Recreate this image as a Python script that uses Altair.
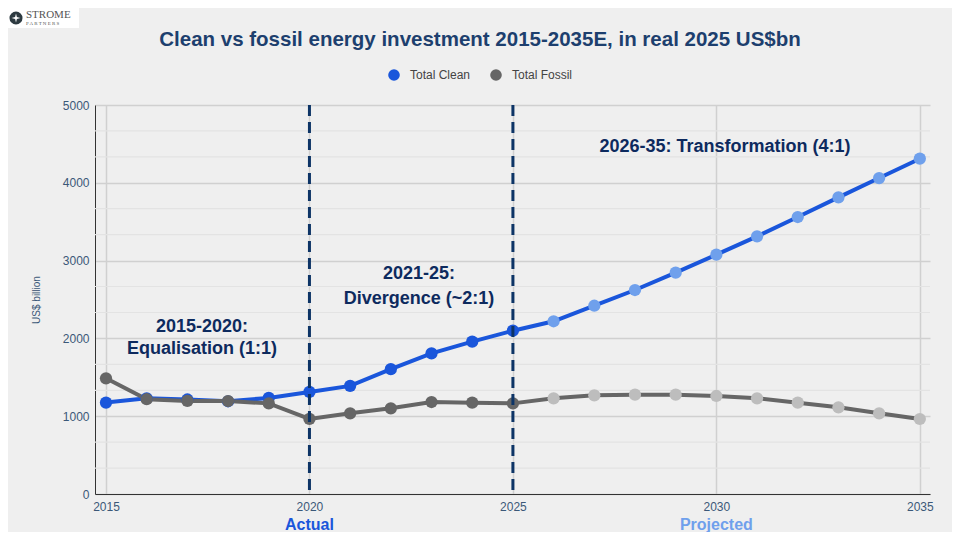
import altair as alt
import pandas as pd

# ---- data ----
years = list(range(2015, 2036))
clean = [1175, 1230, 1215, 1192, 1235, 1312, 1390, 1605, 1808, 1958, 2099,
         2220, 2420, 2622, 2845, 3076, 3312, 3560, 3813, 4061, 4310]
fossil = [1487, 1218, 1196, 1195, 1165, 965, 1037, 1101, 1182, 1174, 1165,
          1230, 1268, 1277, 1277, 1260, 1230, 1174, 1114, 1037, 964]
last_actual = 2025

series_names = ["Total Clean", "Total Fossil"]
line_colors = ["#1a56db", "#666666"]
projected_colors = ["#6fa0ec", "#bdbdbd"]

y_major = [0, 1000, 2000, 3000, 4000, 5000]
y_minor = [333, 667, 1333, 1667, 2333, 2667, 3333, 3667, 4333, 4667]
x_ticks = [2015, 2020, 2025, 2030, 2035]
divider_years = [2020, 2025]

notes_year = [2017.36, 2017.36, 2022.69, 2022.69, 2030.21]
notes_value = [2150, 1865, 2830, 2505, 4460]
notes_text = ["2015-2020:", "Equalisation (1:1)", "2021-25:", "Divergence (~2:1)",
              "2026-35: Transformation (4:1)"]

phase_year = [2020, 2030]
phase_text = ["Actual", "Projected"]
phase_colors = ["#1a56db", "#6fa0ec"]

FONT = "Liberation Sans"
NAVY = "#0d2a5e"
AXIS_TXT = "#3b5878"

alt.data_transformers.disable_max_rows()

rows = []
for s, vals, light in zip(series_names, [clean, fossil], projected_colors):
    for y, v in zip(years, vals):
        rows.append({"year": y, "value": v, "series": s,
                     "projected": y > last_actual, "pt_color": light})
df = pd.DataFrame(rows)

x_enc = alt.X("year:Q", scale=alt.Scale(domain=[2014.73, 2035.25], nice=False, zero=False),
              axis=alt.Axis(values=x_ticks, format="d", title=None, grid=True,
                            gridColor="#d0d0d0", gridWidth=1.5, ticks=False,
                            labelPadding=7, domainColor="#333333"))
y_enc = alt.Y("value:Q", scale=alt.Scale(domain=[0, 5000], nice=False),
              axis=alt.Axis(values=y_major, format="d", title="US$ billion", grid=True,
                            gridColor="#d0d0d0", gridWidth=1.5, ticks=False,
                            labelPadding=6, titlePadding=21, titleFontSize=10,
                            titleFontWeight="normal", titleColor=AXIS_TXT,
                            domainColor="#333333"))

color_scale = alt.Scale(domain=series_names, range=line_colors)

minor = alt.Chart(pd.DataFrame({"value": y_minor})).mark_rule(
    color="#e3e3e3", strokeWidth=1.2
).encode(y=y_enc)

line_layers = []
for s, c in zip(series_names, line_colors):
    line_layers.append(
        alt.Chart(df).transform_filter(alt.datum.series == s).mark_line(
            strokeWidth=4, color=c
        ).encode(x=x_enc, y=y_enc, order="year:Q")
    )

actual_pts = alt.Chart(df).transform_filter("!datum.projected").mark_circle(
    size=150, opacity=1
).encode(
    x=x_enc, y=y_enc,
    color=alt.Color("series:N", scale=color_scale,
                    legend=alt.Legend(title=None, orient="none", direction="horizontal",
                                      legendX=292, legendY=-37, symbolType="circle",
                                      symbolSize=135, labelFontSize=12, labelOffset=9,
                                      labelColor="#444444", columnPadding=18,
                                      padding=0, labelFont=FONT)),
)

proj_pts = alt.Chart(df).transform_filter("datum.projected").mark_circle(
    size=150, opacity=1
).encode(x=x_enc, y=y_enc, fill=alt.Fill("pt_color:N", scale=None))

dividers = alt.Chart(pd.DataFrame({"year": divider_years})).mark_rule(
    color="#0d3466", strokeWidth=3, strokeDash=[11, 6]
).encode(x=x_enc)

notes = alt.Chart(pd.DataFrame({"year": notes_year, "value": notes_value, "t": notes_text})
                  ).mark_text(font=FONT, fontSize=18, fontWeight="bold", color=NAVY,
                              align="center", baseline="middle").encode(
    x=x_enc, y=y_enc, text="t:N")

phases = alt.Chart(pd.DataFrame({"year": phase_year, "t": phase_text, "c": phase_colors})
                   ).mark_text(font=FONT, fontSize=16, fontWeight="bold",
                               align="center", baseline="middle").encode(
    x=x_enc, y=alt.value(420), text="t:N", fill=alt.Fill("c:N", scale=None))

title = alt.Chart(pd.DataFrame({"t": ["Clean vs fossil energy investment 2015-2035E, in real 2025 US$bn"]})
                  ).mark_text(font=FONT, fontSize=20.5, fontWeight="bold", color="#1d3f6e",
                              align="center", baseline="middle").encode(
    x=alt.value(385), y=alt.value(-65), text="t:N")

# logo box (top-left)
logo_box = alt.Chart(pd.DataFrame({"a": [0]})).mark_rect(color="white").encode(
    x=alt.value(-87), x2=alt.value(-16), y=alt.value(-97), y2=alt.value(-77))
logo_icon = alt.Chart(pd.DataFrame({"a": [0]})).mark_point(
    shape="circle", filled=True, size=170, color="#2d3a40", opacity=1
).encode(x=alt.value(-79), y=alt.value(-87))
logo_star = alt.Chart(pd.DataFrame({"a": [0]})).mark_point(
    shape="M0,-1L0.2,-0.2L1,0L0.2,0.2L0,1L-0.2,0.2L-1,0L-0.2,-0.2Z",
    filled=True, size=80, color="white", opacity=1
).encode(x=alt.value(-79), y=alt.value(-87))
logo_text = alt.Chart(pd.DataFrame({"t": ["STROME", "P A R T N E R S"], "py": [-90, -82],
                                    "s": [11, 5]})).mark_text(
    font="Liberation Serif", color="#555555", align="left", baseline="middle"
).encode(x=alt.value(-69), y=alt.Y("py:Q", scale=None), text="t:N",
         size=alt.Size("s:Q", scale=None))

chart = alt.layer(
    minor, *line_layers, actual_pts, proj_pts, dividers, notes, phases, title,
    logo_box, logo_icon, logo_star, logo_text
).properties(
    width=835, height=389,
    autosize=alt.AutoSizeParams(type="none"),
    padding={"left": 87, "top": 97, "right": 22, "bottom": 38},
    background="#efefef",
).configure_view(stroke=None).configure_axis(
    labelFont=FONT, labelFontSize=12, labelColor=AXIS_TXT, titleFont=FONT,
)

chart.save("out.html", embed_options={"renderer": "svg", "actions": False})
